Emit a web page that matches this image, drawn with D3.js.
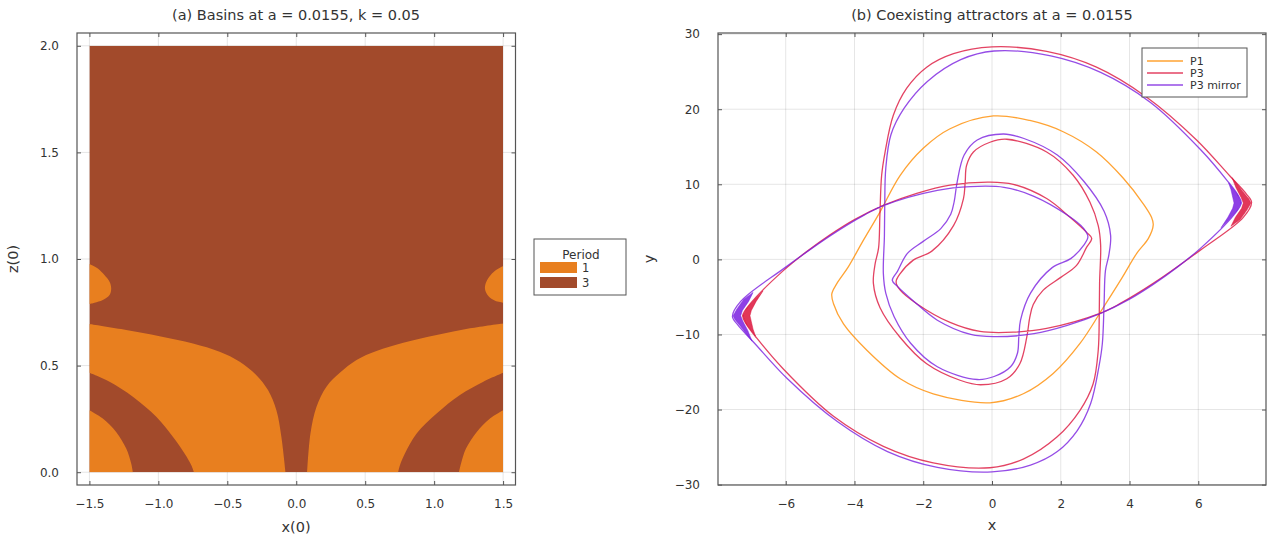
<!DOCTYPE html>
<html>
<head>
<meta charset="utf-8">
<script src="https://cdn.jsdelivr.net/npm/d3@7"></script>
<style>
  body { margin: 0; background: #fff; }
  text { font-family: "DejaVu Sans", sans-serif; fill: #333; }
</style>
</head>
<body>
<div id="chart"></div>
<script>
// ---------- panel (a): basin map ----------
const basinX = [-1.5, 1.5];
const basinZ = [0, 2];
const periodLabels = ["1", "3"];

// period-1 regions (everything else is period 3)
const lobeLeft = [[-1.5,0.977],[-1.439,0.956],[-1.391,0.925],[-1.354,0.893],[-1.342,0.862],[-1.354,0.831],[-1.403,0.808],[-1.463,0.795],[-1.5,0.789]];
const lobeRight = [[1.5,0.967],[1.442,0.945],[1.400,0.917],[1.374,0.886],[1.369,0.858],[1.393,0.826],[1.442,0.804],[1.5,0.795]];
const bigLeftTop = [[-1.5,0.695],[-1.233,0.667],[-0.991,0.638],[-0.749,0.604],[-0.556,0.565],[-0.410,0.518],[-0.289,0.455],[-0.205,0.385],[-0.144,0.291],[-0.108,0.166],[-0.078,0]];
const bandLeftTop = [[-1.5,0.466],[-1.354,0.424],[-1.185,0.354],[-1.015,0.260],[-0.895,0.166],[-0.810,0.088],[-0.761,0.033],[-0.742,0]];
const cornerLeftTop = [[-1.5,0.291],[-1.403,0.252],[-1.306,0.189],[-1.233,0.111],[-1.197,0.041],[-1.185,0]];
const bigRightTop = [[1.5,0.698],[1.26,0.675],[1.018,0.643],[0.776,0.607],[0.582,0.568],[0.437,0.526],[0.316,0.466],[0.219,0.401],[0.147,0.307],[0.103,0.182],[0.079,0]];
const bandRightTop = [[1.5,0.466],[1.357,0.424],[1.187,0.362],[1.018,0.275],[0.873,0.182],[0.788,0.088],[0.752,0.033],[0.739,0]];
const cornerRightTop = [[1.5,0.291],[1.405,0.252],[1.309,0.189],[1.231,0.111],[1.195,0.041],[1.18,0]];

// ---------- panel (b): attractors (x, y) ----------
const seriesNames = ["P1", "P3", "P3 mirror"];
const p1 = [[0.04,19.1],[1.10,18.5],[2.07,17.0],[3.04,14.3],[3.82,10.8],[4.40,7.4],[4.64,5.6],[4.69,4.6],[4.55,2.8],[4.21,0.8],[3.79,-2.4],[3.24,-6.4],[2.56,-11.2],[1.78,-15.2],[0.91,-17.9],[-0.06,-19.1],[-1.71,-17.9],[-2.67,-15.9],[-3.64,-12.1],[-4.32,-8.6],[-4.61,-5.9],[-4.66,-4.6],[-4.51,-3.2],[-4.18,-1.0],[-3.76,2.4],[-3.26,6.3],[-2.67,11.2],[-2.0,14.8],[-1.22,17.4]];
const p3 = [[-3.30,1.5],[-3.26,6.0],[-3.21,11.2],[-3.11,14.3],[-2.87,19.2],[-2.48,22.8],[-1.90,25.6],[-1.12,27.4],[0.0,28.3],[1.59,27.7],[3.04,25.6],[4.50,21.6],[5.95,15.9],[6.92,11.1],[7.40,8.7],[7.55,7.6],[7.31,5.6],[6.05,1.2],[4.69,-3.2],[3.72,-5.9],[3.14,-7.2],[1.59,-9.2],[0.62,-9.7],[-0.35,-9.6],[-1.22,-8.4],[-2.19,-5.9],[-2.67,-4.1],[-2.79,-3.0],[-2.67,-1.9],[-2.29,-0.1],[-1.75,1.1],[-1.12,4.5],[-0.83,8.1],[-0.78,10.3],[-0.74,12.5],[-0.54,14.3],[-0.06,15.6],[0.43,16.0],[1.59,14.3],[2.36,11.2],[2.85,7.6],[3.09,4.5],[3.16,1.9],[3.13,-3.0],[3.12,-7.2],[3.09,-12.1],[2.94,-16.6],[2.56,-20.1],[1.88,-23.7],[0.91,-26.6],[-0.06,-27.75],[-1.71,-27.1],[-3.16,-24.9],[-4.61,-20.9],[-6.07,-14.6],[-6.84,-10.5],[-7.15,-8.6],[-7.25,-7.5],[-7.03,-5.9],[-6.07,-1.5],[-5.4,1.0],[-4.7,3.3],[-4.0,5.3],[-3.16,7.2],[-2.19,8.8],[-1.22,9.9],[-0.06,10.3],[0.62,10.0],[1.59,8.1],[2.27,5.6],[2.75,3.6],[2.90,2.8],[2.75,1.6],[2.46,-0.8],[2.0,-2.4],[1.49,-4.1],[1.2,-6.0],[1.10,-7.7],[1.01,-10.4],[0.81,-13.9],[0.43,-15.9],[-0.33,-16.7],[-0.93,-16.1],[-1.90,-13.9],[-2.67,-10.4],[-3.26,-6.4],[-3.45,-3.2],[-3.40,-0.6]];
const p3Mirror = [[3.30,-1.5],[3.26,-6.0],[3.21,-11.2],[3.11,-14.3],[2.87,-19.2],[2.48,-22.8],[1.90,-25.6],[1.12,-27.4],[0.0,-28.3],[-1.59,-27.7],[-3.04,-25.6],[-4.50,-21.6],[-5.95,-15.9],[-6.92,-11.1],[-7.40,-8.7],[-7.55,-7.6],[-7.31,-5.6],[-6.05,-1.2],[-4.69,3.2],[-3.72,5.9],[-3.14,7.2],[-1.59,9.2],[-0.62,9.7],[0.35,9.6],[1.22,8.4],[2.19,5.9],[2.67,4.1],[2.79,3.0],[2.67,1.9],[2.29,0.1],[1.75,-1.1],[1.12,-4.5],[0.83,-8.1],[0.78,-10.3],[0.74,-12.5],[0.54,-14.3],[0.06,-15.6],[-0.43,-16.0],[-1.59,-14.3],[-2.36,-11.2],[-2.85,-7.6],[-3.09,-4.5],[-3.16,-1.9],[-3.13,3.0],[-3.12,7.2],[-3.09,12.1],[-2.94,16.6],[-2.56,20.1],[-1.88,23.7],[-0.91,26.6],[0.06,27.75],[1.71,27.1],[3.16,24.9],[4.61,20.9],[6.07,14.6],[6.84,10.5],[7.15,8.6],[7.25,7.5],[7.03,5.9],[6.07,1.5],[5.4,-1.0],[4.7,-3.3],[4.0,-5.3],[3.16,-7.2],[2.19,-8.8],[1.22,-9.9],[0.06,-10.3],[-0.62,-10.0],[-1.59,-8.1],[-2.27,-5.6],[-2.75,-3.6],[-2.90,-2.8],[-2.75,-1.6],[-2.46,0.8],[-2.0,2.4],[-1.49,4.1],[-1.2,6.0],[-1.10,7.7],[-1.01,10.4],[-0.81,13.9],[-0.43,15.9],[0.33,16.7],[0.93,16.1],[1.90,13.9],[2.67,10.4],[3.26,6.4],[3.45,3.2],[3.40,0.6]];

// the orbits pass the two tips several times, slightly apart: outline of that smeared band
const p3TipBands = [
  [[6.98,10.9],[7.30,9.0],[7.48,8.0],[7.53,7.5],[7.42,6.6],[7.22,5.3],[6.95,4.4],[7.08,5.6],[7.26,6.8],[7.31,7.5],[7.25,8.2],[7.1,9.5]],
  [[-6.88,-10.2],[-7.15,-8.6],[-7.25,-7.5],[-7.13,-6.5],[-6.88,-5.2],[-6.66,-4.2],[-6.86,-5.6],[-7.0,-6.8],[-7.04,-7.5],[-7.0,-8.3],[-6.95,-9.3]]
];
const p3MirrorTipBands = [
  [[-6.98,-10.9],[-7.30,-9.0],[-7.48,-8.0],[-7.53,-7.5],[-7.42,-6.6],[-7.22,-5.3],[-6.95,-4.4],[-7.08,-5.6],[-7.26,-6.8],[-7.31,-7.5],[-7.25,-8.2],[-7.1,-9.5]],
  [[6.88,10.2],[7.15,8.6],[7.25,7.5],[7.13,6.5],[6.88,5.2],[6.66,4.2],[6.86,5.6],[7.0,6.8],[7.04,7.5],[7.0,8.3],[6.95,9.3]]
];

const ticksXa = [-1.5, -1, -0.5, 0, 0.5, 1, 1.5];
const ticksZa = [0, 0.5, 1, 1.5, 2];
const ticksXb = [-6, -4, -2, 0, 2, 4, 6];
const ticksYb = [-30, -20, -10, 0, 10, 20, 30];

// ---------- drawing ----------
const orange = "#e87f1f", brown = "#a24a2b";
const lineColors = ["#ff8c00", "#dc143c", "#7a1fe0"];

const svg = d3.select("#chart").append("svg")
    .attr("width", 1276).attr("height", 542);
svg.append("rect").attr("width", 1276).attr("height", 542).attr("fill", "#fff");

const xa = d3.scaleLinear().domain([-1.59, 1.59]).range([77, 515.5]);
const za = d3.scaleLinear().domain([-0.06, 2.06]).range([485, 33]);
const xb = d3.scaleLinear().domain([-7.97, 7.97]).range([718, 1266]);
const yb = d3.scaleLinear().domain([-30.05, 30.15]).range([485, 33]);

function grid(x, y, xt, yt) {
    const g = svg.append("g").attr("stroke", "#000").attr("stroke-opacity", 0.1);
    g.selectAll(".gx").data(xt).join("line")
        .attr("x1", d => x(d)).attr("x2", d => x(d))
        .attr("y1", y.range()[0]).attr("y2", y.range()[1]);
    g.selectAll(".gy").data(yt).join("line")
        .attr("y1", d => y(d)).attr("y2", d => y(d))
        .attr("x1", x.range()[0]).attr("x2", x.range()[1]);
}

function frame(x, y, xt, yt, fmt) {
    const [x0, x1] = x.range(), [y0, y1] = y.range();
    const style = g => {
        g.select(".domain").remove();
        g.selectAll(".tick line").attr("stroke", "#555");
        g.selectAll("text").attr("font-family", "DejaVu Sans, sans-serif")
            .attr("font-size", 12).attr("fill", "#333");
    };
    svg.append("g").attr("transform", `translate(0,${y0})`)
        .call(d3.axisBottom(x).tickValues(xt).tickFormat(fmt).tickSizeInner(-4).tickSizeOuter(0).tickPadding(14))
        .call(style);
    svg.append("g").attr("transform", `translate(0,${y1})`)
        .call(d3.axisTop(x).tickValues(xt).tickFormat("").tickSizeInner(-4).tickSizeOuter(0))
        .call(style);
    svg.append("g").attr("transform", `translate(${x0},0)`)
        .call(d3.axisLeft(y).tickValues(yt).tickFormat(fmt).tickSizeInner(-4).tickSizeOuter(0).tickPadding(18))
        .call(style);
    svg.append("g").attr("transform", `translate(${x1},0)`)
        .call(d3.axisRight(y).tickValues(yt).tickFormat("").tickSizeInner(-4).tickSizeOuter(0))
        .call(style);
    svg.append("rect").attr("x", x0).attr("y", y1)
        .attr("width", x1 - x0).attr("height", y0 - y1)
        .attr("fill", "none").attr("stroke", "#555").attr("stroke-width", 1.2);
}

function label(txt, x, y, size, rot) {
    svg.append("text").attr("x", x).attr("y", y)
        .attr("text-anchor", "middle").attr("dominant-baseline", "central")
        .attr("font-size", size)
        .attr("transform", rot ? `rotate(-90,${x},${y})` : null)
        .text(txt);
}

// ----- panel (a) -----
grid(xa, za, ticksXa, ticksZa);

svg.append("clipPath").attr("id", "clipA").append("rect")
    .attr("x", xa(basinX[0])).attr("y", za(basinZ[1]))
    .attr("width", xa(basinX[1]) - xa(basinX[0])).attr("height", za(basinZ[0]) - za(basinZ[1]));
const ga = svg.append("g").attr("clip-path", "url(#clipA)");

ga.append("rect")
    .attr("x", xa(basinX[0])).attr("y", za(basinZ[1]))
    .attr("width", xa(basinX[1]) - xa(basinX[0])).attr("height", za(basinZ[0]) - za(basinZ[1]))
    .attr("fill", brown);

const smooth = d3.line().x(d => xa(d[0])).y(d => za(d[1])).curve(d3.curveCatmullRom.alpha(0.5));
const cont = pts => "L" + smooth(pts).slice(1);

const regions = [
    smooth(lobeLeft) + "Z",
    smooth(lobeRight) + "Z",
    smooth(bigLeftTop) + cont(bandLeftTop.slice().reverse()) + "Z",
    smooth(bigRightTop) + cont(bandRightTop.slice().reverse()) + "Z",
    `M${xa(basinX[0])},${za(basinZ[0])}` + cont(cornerLeftTop) + "Z",
    `M${xa(basinX[1])},${za(basinZ[0])}` + cont(cornerRightTop) + "Z"
];
ga.selectAll("path").data(regions).join("path")
    .attr("d", d => d).attr("fill", orange);

frame(xa, za, ticksXa, ticksZa, d3.format(".1f"));
label("(a) Basins at a = 0.0155, k = 0.05", 296, 15, 14.5);
label("x(0)", 296, 527, 14.5);
label("z(0)", 13, 259, 14.5, true);

// legend (a)
const la = svg.append("g");
la.append("rect").attr("x", 534).attr("y", 239).attr("width", 92).attr("height", 56)
    .attr("fill", "#fff").attr("stroke", "#555").attr("stroke-width", 1);
la.append("text").attr("x", 581).attr("y", 254.5).attr("text-anchor", "middle")
    .attr("dominant-baseline", "central").attr("font-size", 12).text("Period");
la.selectAll(".sw").data(periodLabels).join("rect")
    .attr("x", 540).attr("y", (d, i) => 262 + i * 15)
    .attr("width", 37).attr("height", 11)
    .attr("fill", (d, i) => i === 0 ? orange : brown);
la.selectAll(".lt").data(periodLabels).join("text")
    .attr("x", 582).attr("y", (d, i) => 267.5 + i * 15)
    .attr("dominant-baseline", "central").attr("font-size", 11.5).text(d => d);

// ----- panel (b) -----
grid(xb, yb, ticksXb, ticksYb);

svg.append("clipPath").attr("id", "clipB").append("rect")
    .attr("x", 718).attr("y", 33).attr("width", 548).attr("height", 452);
const gb = svg.append("g").attr("clip-path", "url(#clipB)").attr("fill", "none");

const loop = d3.line().x(d => xb(d[0])).y(d => yb(d[1])).curve(d3.curveCatmullRomClosed.alpha(0.5));
const band = d3.line().x(d => xb(d[0])).y(d => yb(d[1])).curve(d3.curveLinearClosed);

[p1, p3, p3Mirror].forEach((s, i) => {
    gb.append("path").attr("d", loop(s))
        .attr("stroke", lineColors[i]).attr("stroke-width", 1.3).attr("stroke-opacity", 0.8);
});
[p3TipBands, p3MirrorTipBands].forEach((bands, i) => {
    gb.selectAll(null).data(bands).join("path")
        .attr("d", d => band(d))
        .attr("fill", lineColors[i + 1]).attr("fill-opacity", 0.85)
        .attr("stroke", lineColors[i + 1]).attr("stroke-width", 0.8).attr("stroke-opacity", 0.6);
});

frame(xb, yb, ticksXb, ticksYb, d3.format("d"));
label("(b) Coexisting attractors at a = 0.0155", 992, 15, 14.5);
label("x", 992, 525, 14.5);
label("y", 649, 259, 14.5, true);

// legend (b)
const lb = svg.append("g");
lb.append("rect").attr("x", 1142).attr("y", 48).attr("width", 105).attr("height", 49)
    .attr("fill", "#fff").attr("stroke", "#555").attr("stroke-width", 1);
seriesNames.forEach((name, i) => {
    const y = 61 + i * 12;
    lb.append("line").attr("x1", 1147).attr("x2", 1183).attr("y1", y).attr("y2", y)
        .attr("stroke", lineColors[i]).attr("stroke-width", 1.3).attr("stroke-opacity", 0.8);
    lb.append("text").attr("x", 1190).attr("y", y).attr("dominant-baseline", "central")
        .attr("font-size", 11).text(name);
});
</script>
</body>
</html>
